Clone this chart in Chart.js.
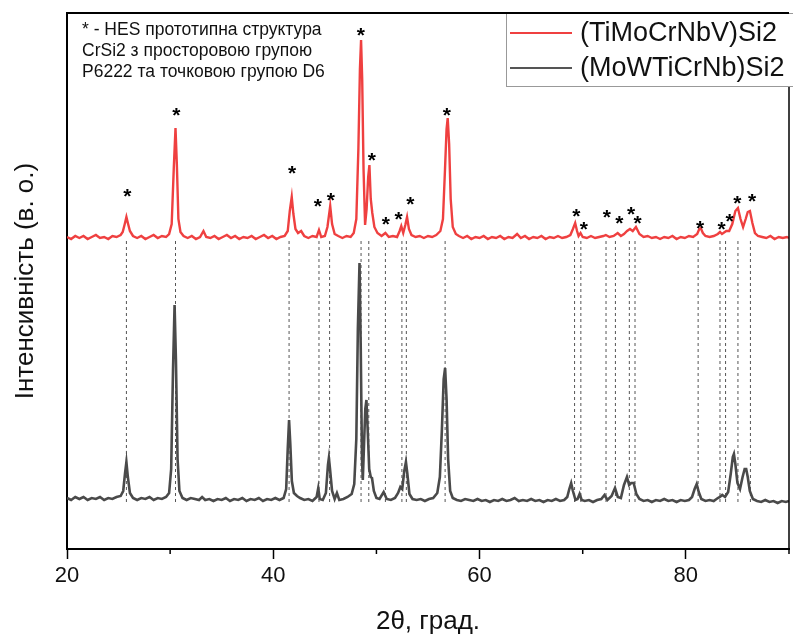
<!DOCTYPE html>
<html>
<head>
<meta charset="utf-8">
<script src="https://cdn.jsdelivr.net/npm/chart.js@4.4.1/dist/chart.umd.min.js"></script>
<style>
html,body{margin:0;padding:0;background:#fff;}
#wrap{width:793px;height:637px;}
</style>
</head>
<body>
<div id="wrap"><canvas id="c" width="793" height="637"></canvas></div>
<script>
// ---- data (2θ, intensity in a.u.) ----
const seriesNames = ['(TiMoCrNbV)Si2', '(MoWTiCrNb)Si2'];
const redPattern = [
[20.0,312],[20.4,310],[20.8,313],[21.2,311],[21.6,313],[22.0,310],[22.4,312],[22.8,314],[23.2,311],[23.6,312],[24.0,310],[24.4,313],[24.8,312],[25.2,314],[25.4,317],[25.6,325],[25.76,332],[25.9,326],[26.1,318],[26.4,313],[26.8,311],[27.2,313],[27.6,310],[28.0,312],[28.4,314],[28.8,311],[29.2,313],[29.6,312],[29.9,315],[30.15,325],[30.35,380],[30.52,421],[30.65,385],[30.8,330],[31.0,317],[31.3,313],[31.7,311],[32.1,313],[32.5,310],[32.9,312],[33.23,318],[33.5,312],[33.9,311],[34.3,313],[34.7,310],[35.1,312],[35.5,314],[35.9,311],[36.3,313],[36.7,310],[37.1,312],[37.5,311],[37.9,313],[38.3,310],[38.7,312],[39.1,314],[39.5,311],[39.9,313],[40.3,310],[40.7,312],[41.1,313],[41.4,318],[41.6,338],[41.79,352],[41.95,335],[42.15,320],[42.4,316],[42.7,318],[43.0,313],[43.4,311],[43.8,313],[44.2,312],[44.43,319],[44.65,312],[45.0,313],[45.25,322],[45.52,343],[45.7,325],[45.95,315],[46.3,313],[46.7,311],[47.1,313],[47.5,312],[47.8,316],[48.05,330],[48.25,400],[48.4,480],[48.51,509],[48.62,470],[48.75,380],[48.9,324],[49.05,340],[49.2,372],[49.32,384],[49.45,350],[49.6,336],[49.8,322],[50.1,316],[50.5,313],[50.87,316],[51.2,312],[51.6,313],[52.0,312],[52.25,318],[52.41,323],[52.6,316],[52.8,324],[52.97,332],[53.15,320],[53.4,314],[53.8,312],[54.2,313],[54.6,311],[55.0,313],[55.4,312],[55.8,314],[56.2,318],[56.45,330],[56.65,380],[56.8,420],[56.91,431],[57.05,405],[57.2,350],[57.4,322],[57.7,315],[58.0,313],[58.4,311],[58.8,313],[59.2,310],[59.6,312],[60.0,311],[60.4,313],[60.8,310],[61.2,312],[61.6,311],[62.0,313],[62.4,310],[62.8,312],[63.2,311],[63.64,315],[64.0,311],[64.4,313],[64.8,310],[65.2,312],[65.6,311],[66.0,313],[66.4,310],[66.8,312],[67.2,311],[67.6,313],[68.0,311],[68.4,312],[68.8,314],[69.05,320],[69.27,326],[69.45,318],[69.6,313],[69.79,316],[70.0,312],[70.4,311],[70.8,313],[71.2,311],[71.6,312],[72.0,313],[72.24,314],[72.6,312],[73.0,313],[73.39,316],[73.7,313],[74.0,315],[74.3,318],[74.58,320],[74.85,318],[75.16,322],[75.5,315],[75.9,312],[76.3,313],[76.7,311],[77.1,312],[77.5,310],[77.9,312],[78.3,311],[78.7,313],[79.1,310],[79.5,312],[79.9,311],[80.3,313],[80.7,312],[81.1,315],[81.3,320],[81.44,321],[81.65,316],[81.9,313],[82.3,312],[82.7,313],[83.1,315],[83.31,317],[83.5,315],[83.92,318],[84.2,318],[84.5,325],[84.8,338],[85.05,341],[85.3,330],[85.55,322],[85.8,330],[86.0,337],[86.21,338],[86.45,326],[86.7,316],[87.0,313],[87.4,312],[87.8,311],[88.2,313],[88.6,310],[89.0,312],[89.4,311],[89.8,312],[90.0,311]
];
const grayPattern = [
[20.0,51],[20.4,49],[20.8,52],[21.2,50],[21.6,52],[22.0,49],[22.4,51],[22.8,50],[23.2,52],[23.6,49],[24.0,51],[24.4,50],[24.8,52],[25.2,53],[25.45,58],[25.62,75],[25.76,87],[25.9,72],[26.1,56],[26.4,51],[26.8,49],[27.2,51],[27.6,50],[28.0,52],[28.4,49],[28.8,51],[29.2,50],[29.6,52],[29.9,56],[30.1,80],[30.28,180],[30.43,244],[30.56,190],[30.72,90],[30.9,58],[31.2,51],[31.6,49],[32.0,51],[32.4,50],[32.8,49],[33.1,52],[33.4,49],[33.8,50],[34.2,48],[34.6,50],[35.0,49],[35.4,51],[35.8,48],[36.2,50],[36.6,49],[37.0,51],[37.4,48],[37.8,50],[38.2,49],[38.6,51],[39.0,48],[39.4,50],[39.8,49],[40.2,51],[40.6,49],[41.0,51],[41.25,60],[41.4,100],[41.53,129],[41.65,105],[41.8,68],[42.0,56],[42.3,53],[42.6,51],[43.0,49],[43.4,50],[43.8,48],[44.2,52],[44.36,61],[44.5,50],[44.8,49],[45.1,56],[45.3,84],[45.39,91],[45.5,80],[45.7,58],[45.95,50],[46.17,56],[46.4,49],[46.8,50],[47.2,52],[47.6,55],[47.85,65],[48.05,110],[48.2,220],[48.36,286],[48.48,200],[48.6,90],[48.68,69],[48.8,105],[48.92,140],[49.03,149],[49.15,120],[49.3,80],[49.45,72],[49.57,71],[49.75,58],[50.0,51],[50.3,50],[50.7,57],[51.0,50],[51.4,49],[51.8,51],[52.1,56],[52.32,62],[52.5,60],[52.7,78],[52.86,87],[53.0,75],[53.2,55],[53.5,50],[53.9,49],[54.3,50],[54.7,48],[55.1,50],[55.5,51],[55.9,56],[56.15,72],[56.35,120],[56.52,170],[56.66,181],[56.8,150],[56.95,90],[57.15,58],[57.4,51],[57.8,49],[58.2,48],[58.6,50],[59.0,49],[59.4,48],[59.8,50],[60.2,48],[60.6,49],[61.0,47],[61.4,49],[61.8,48],[62.2,50],[62.6,48],[63.0,49],[63.4,51],[63.8,48],[64.2,49],[64.6,48],[65.0,50],[65.4,48],[65.8,49],[66.2,47],[66.6,49],[67.0,48],[67.4,50],[67.8,48],[68.2,49],[68.5,52],[68.7,60],[68.88,66],[69.05,58],[69.3,49],[69.5,50],[69.7,55],[69.9,49],[70.2,48],[70.6,49],[71.0,47],[71.4,49],[71.8,50],[72.11,54],[72.4,49],[72.8,53],[73.13,61],[73.4,52],[73.7,51],[74.0,64],[74.29,72],[74.5,64],[74.7,66],[74.94,66],[75.2,55],[75.5,50],[75.9,48],[76.3,49],[76.7,47],[77.1,49],[77.5,48],[77.9,50],[78.3,48],[78.7,49],[79.1,47],[79.5,49],[79.9,48],[80.3,49],[80.6,52],[80.85,60],[81.05,65],[81.25,57],[81.5,50],[81.9,48],[82.3,49],[82.7,48],[83.1,51],[83.3,52],[83.53,54],[83.8,52],[84.1,57],[84.35,75],[84.55,92],[84.66,95],[84.8,85],[85.0,66],[85.25,60],[85.5,72],[85.7,80],[85.85,80],[86.0,72],[86.2,58],[86.5,50],[86.9,48],[87.3,47],[87.7,49],[88.1,47],[88.5,48],[88.9,46],[89.3,48],[89.7,47],[90.0,48]
];
// positions of HES (CrSi2-type) reflections: dashed guides
const markerPositions = [25.76,30.52,41.53,44.43,45.46,48.51,49.26,50.87,52.47,52.9,56.66,69.21,69.82,72.26,73.17,74.52,75.07,81.19,83.31,83.85,85.05,86.26];
const markerTop = 308, markerBottom = 46;
// asterisk marks above red peaks (2θ, level)
const asteriskTheta = [25.86,30.59,41.82,44.33,45.59,48.48,49.55,50.9,52.15,53.28,56.82,69.37,70.11,72.33,73.56,74.68,75.33,81.38,83.46,84.24,84.98,86.43];
const asteriskLevel = [356,437,379,346,352,517,392,328,333,348,437,336,323,335,329,338,329,324,323,331,349,351];
const xTicks = [20,30,40,50,60,70,80,90];
const xTickLabels = {20:'20',40:'40',60:'60',80:'80'};
const noteLines = ['* - HES прототипна структура','CrSi2 з просторовою групою','P6222 та точковою групою D6'];
const xTitle = '2θ, град.';
const yTitle = 'Інтенсивність (в. о.)';

const FONT = "'Liberation Sans', Arial, sans-serif";
const RED = '#ef4040', GRAY = '#4a4a4a';

const markerData = [];
markerPositions.forEach(p => { markerData.push({x:p,y:markerTop},{x:p,y:markerBottom},{x:p,y:null}); });

const decor = {
  id:'decor',
  afterDraw(chart){
    const ctx = chart.ctx, a = chart.chartArea, xs = chart.scales.x, ys = chart.scales.y;
    ctx.save();
    // frame top/right
    ctx.strokeStyle = '#000'; ctx.lineWidth = 2;
    ctx.beginPath(); ctx.moveTo(a.left-1, a.top); ctx.lineTo(a.right, a.top); ctx.stroke();
    ctx.lineWidth = 1.5;
    ctx.beginPath(); ctx.moveTo(a.right, a.top); ctx.lineTo(a.right, a.bottom); ctx.stroke();
    // minor ticks
    ctx.lineWidth = 1.5;
    xTicks.forEach(v => { if (!xTickLabels[v]) { const px = xs.getPixelForValue(v); ctx.beginPath(); ctx.moveTo(px, a.bottom); ctx.lineTo(px, a.bottom+5); ctx.stroke(); } });
    // asterisks
    ctx.fillStyle = '#000'; ctx.font = 'bold 21px ' + FONT; ctx.textAlign = 'center'; ctx.textBaseline = 'alphabetic';
    const m = ctx.measureText('*');
    const off = (m.actualBoundingBoxAscent - m.actualBoundingBoxDescent)/2;
    asteriskTheta.forEach((t,i) => { ctx.fillText('*', xs.getPixelForValue(t), ys.getPixelForValue(asteriskLevel[i]) + off); });
    // note
    ctx.font = '17.5px ' + FONT; ctx.textAlign = 'left'; ctx.textBaseline = 'middle'; ctx.fillStyle = '#111';
    noteLines.forEach((s,i) => ctx.fillText(s, 82, 30 + i*21));
    // legend
    ctx.fillStyle = '#fff'; ctx.fillRect(506, 14, 300, 73);
    ctx.strokeStyle = '#999'; ctx.lineWidth = 1;
    ctx.strokeRect(506.5, 13.5, 300, 73);
    ctx.strokeStyle = '#000'; ctx.lineWidth = 2;
    ctx.beginPath(); ctx.moveTo(a.left-1, a.top); ctx.lineTo(a.right, a.top); ctx.stroke();
    const cols = [RED, '#555'];
    ctx.font = '27px ' + FONT; ctx.fillStyle = '#111';
    seriesNames.forEach((n,i) => {
      const y = 33 + i*35;
      ctx.strokeStyle = cols[i]; ctx.lineWidth = 2;
      ctx.beginPath(); ctx.moveTo(510, y); ctx.lineTo(572, y); ctx.stroke();
      ctx.fillText(n, 580, y + 1);
    });
    ctx.restore();
  }
};

new Chart(document.getElementById('c'), {
  type:'line',
  data:{ datasets:[
    {label:seriesNames[0], data:redPattern, borderColor:RED, borderWidth:2.4, pointRadius:0, tension:0, order:0},
    {label:seriesNames[1], data:grayPattern, borderColor:GRAY, borderWidth:2.6, pointRadius:0, tension:0, order:1},
    {label:'guides', data:markerData, borderColor:'#555', borderWidth:1, borderDash:[3,3], pointRadius:0, spanGaps:false, order:2}
  ]},
  options:{
    responsive:false, animation:false, devicePixelRatio:1,
    layout:{padding:{top:13, right:1, left:0, bottom:0}},
    plugins:{legend:{display:false}, tooltip:{enabled:false}},
    scales:{
      x:{type:'linear', min:20, max:90,
        afterBuildTicks(s){ s.ticks = xTicks.map(v => ({value:v})); },
        afterFit(s){ s.height = 88; },
        ticks:{ callback:(v) => xTickLabels[v] || '', font:{family:FONT, size:22}, color:'#111', padding:4, maxRotation:0, autoSkip:false },
        grid:{ drawOnChartArea:false, drawTicks:true, tickLength:10, tickWidth:1.5, tickColor:(c) => xTickLabels[c.tick && c.tick.value] ? '#000' : 'rgba(0,0,0,0)' },
        border:{ display:true, color:'#000', width:2 },
        title:{ display:true, text:xTitle, font:{family:FONT, size:26}, color:'#111', padding:{top:0,bottom:0} }
      },
      y:{ min:0, max:536,
        afterFit(s){ s.width = 67; },
        ticks:{ display:false },
        grid:{ display:false, drawTicks:false },
        border:{ display:true, color:'#000', width:2 },
        title:{ display:true, text:yTitle, font:{family:FONT, size:26}, color:'#111', padding:{top:10,bottom:0} }
      }
    }
  },
  plugins:[decor]
});
</script>
</body>
</html>
